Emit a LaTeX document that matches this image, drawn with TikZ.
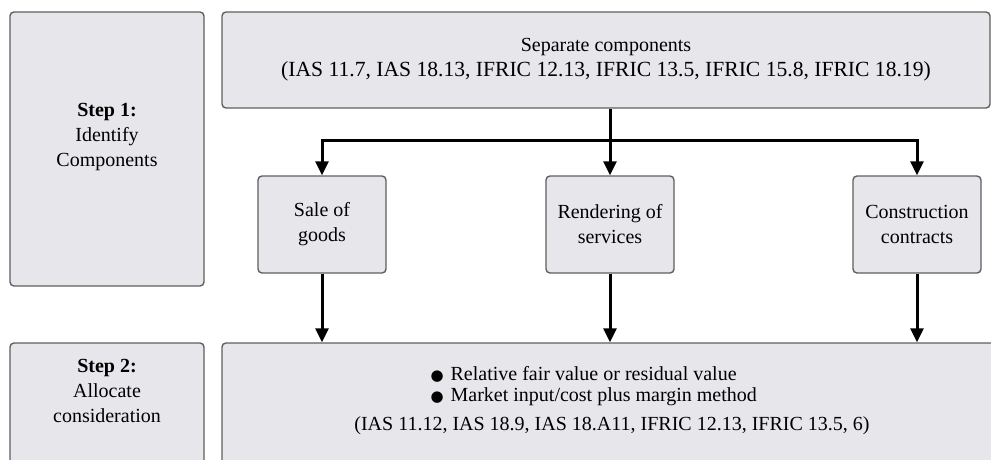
\documentclass[tikz,border=0pt]{standalone}
\usepackage{fontspec}
\setmainfont{Liberation Serif}
\newfontfamily\dotfont{DejaVu Sans}
\usetikzlibrary{arrows.meta}
\definecolor{boxfill}{RGB}{231,231,235}
\definecolor{boxline}{RGB}{95,95,95}
\newcommand{\bigdot}{{\dotfont\fontsize{15}{21}\selectfont ●}}

\begin{document}
\begin{tikzpicture}[
        x=1pt, y=-1pt,
        panel/.style={rectangle, draw=boxline, line width=1.4pt, fill=boxfill, rounded corners=4pt, align=center, font=\fontsize{20}{25}\selectfont},
        item/.style={panel, minimum width=128, minimum height=97, inner sep=2pt},
        txt/.style={align=center, font=\fontsize{20}{25}\selectfont},
        flow/.style={line width=3pt, -{Triangle[width=13pt,length=14pt]}}
    ]

        \useasboundingbox (0,0) rectangle (991,459);
        \clip (0,0) rectangle (991,459);

        % Step 1: identify components
        \node[panel, minimum width=194, minimum height=274] (step1) at (107,149) {};
        \node[txt] (step1_text) at (107,137) {\textbf{Step 1:}\\Identify\\Components};
        \node[panel, minimum width=768, minimum height=96] (separate) at (606,60)
            {Separate components\\{\fontsize{21.6}{25}\selectfont (IAS 11.7, IAS 18.13, IFRIC 12.13, IFRIC 13.5, IFRIC 15.8, IFRIC 18.19)}};

        \node[item] (sale) at (322,224.5) {Sale of\\goods};
        \node[item] (render) at (610,224.5) {Rendering of\\services};
        \node[item] (construct) at (917,224.5) {Construction\\contracts};

        % Step 2: allocate consideration
        \node[panel, minimum width=194, minimum height=160] (step2) at (107,423) {};
        \node[txt] (step2_text) at (107,391) {\textbf{Step 2:}\\Allocate\\consideration};
        \node[panel, minimum width=790, minimum height=160] (allocate) at (617,423) {};
        \node[txt, align=left, anchor=west, font=\fontsize{20}{21}\selectfont] (methods) at (427,386)
            {\bigdot\hspace{7pt}Relative fair value or residual value\\
             \bigdot\hspace{7pt}Market input/cost plus margin method};
        \node[txt] (refs) at (612,426) {(IAS 11.12, IAS 18.9, IAS 18.A11, IFRIC 12.13, IFRIC 13.5, 6)};

        % Connectors
        \coordinate (fork) at (610,140);
        \draw[line width=3pt] (fork |- separate.south) -- (fork);
        \draw[flow] (fork) -| (sale);
        \draw[flow] (fork) -- (render);
        \draw[flow] (fork) -| (construct);
        \draw[flow] (sale) -- (sale |- allocate.north);
        \draw[flow] (render) -- (render |- allocate.north);
        \draw[flow] (construct) -- (construct |- allocate.north);

    \end{tikzpicture}
\end{document}
